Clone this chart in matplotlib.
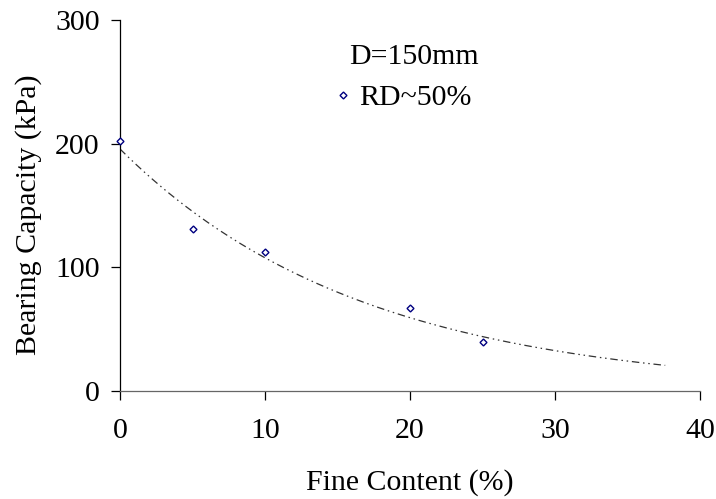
import numpy as np
import matplotlib
matplotlib.use("Agg")
import matplotlib.pyplot as plt

plt.rcParams['font.family'] = ['Liberation Serif', 'DejaVu Serif']

# Data
fine_content = [0, 5, 10, 20, 25]
bearing_capacity = [202, 131, 112.5, 67, 40]
x_ticks = [0, 10, 20, 30, 40]
y_ticks = [0, 100, 200, 300]
legend_title = "D=150mm"
series_label = "RD~50%"
trend_end = 37.6

W, H = 716, 499
FS = 21.5
L, R, T, B = 120, 700, 20, 391

# Exponential trendline fitted to data
b, lna = np.polyfit(fine_content, np.log(bearing_capacity), 1)
xt = np.linspace(0, trend_end, 200)
yt = np.exp(lna) * np.exp(b * xt)

fig = plt.figure(figsize=(W / 100, H / 100), dpi=100)
ax = fig.add_axes([L / W, 1 - B / H, (R - L) / W, (B - T) / H])

ax.plot(xt, yt, color='#333333', lw=0.9, linestyle=(0, (6, 3, 1.2, 3, 1.2, 3)), zorder=2)
ax.plot(fine_content, bearing_capacity, linestyle='none', marker='D', markersize=3.5,
        markerfacecolor='white', markeredgecolor='#000080', markeredgewidth=1.0,
        label=series_label, zorder=3, clip_on=False)

ax.set_xlim(0, 40)
ax.set_ylim(0, 300)
ax.set_xticks(x_ticks)
ax.set_yticks(y_ticks)
ax.tick_params(axis='both', direction='out', length=6.5, width=0.9, labelsize=FS, colors='black')
ax.tick_params(axis='x', pad=13)
ax.tick_params(axis='y', pad=8)
for s in ['top', 'right']:
    ax.spines[s].set_visible(False)
ax.spines['left'].set_linewidth(0.9)
ax.spines['bottom'].set_linewidth(0.9)
ax.spines['bottom'].set_color('#666666')

ax.set_xlabel("Fine Content (%)", fontsize=FS, labelpad=18)
ax.set_ylabel("Bearing Capacity (kPa)", fontsize=FS)
ax.yaxis.set_label_coords((42 - L) / (R - L), (B - 215) / (B - T))

fig.text(414 / W, 1 - 64 / H, legend_title, fontsize=FS, ha='center', va='baseline')
leg = ax.legend(loc='center left', bbox_to_anchor=(335.5 / W, 1 - 98 / H),
                bbox_transform=fig.transFigure, frameon=False, fontsize=FS,
                handlelength=0.5, handletextpad=0.28, borderpad=0, borderaxespad=0)

fig.savefig("out.png", dpi=100)
